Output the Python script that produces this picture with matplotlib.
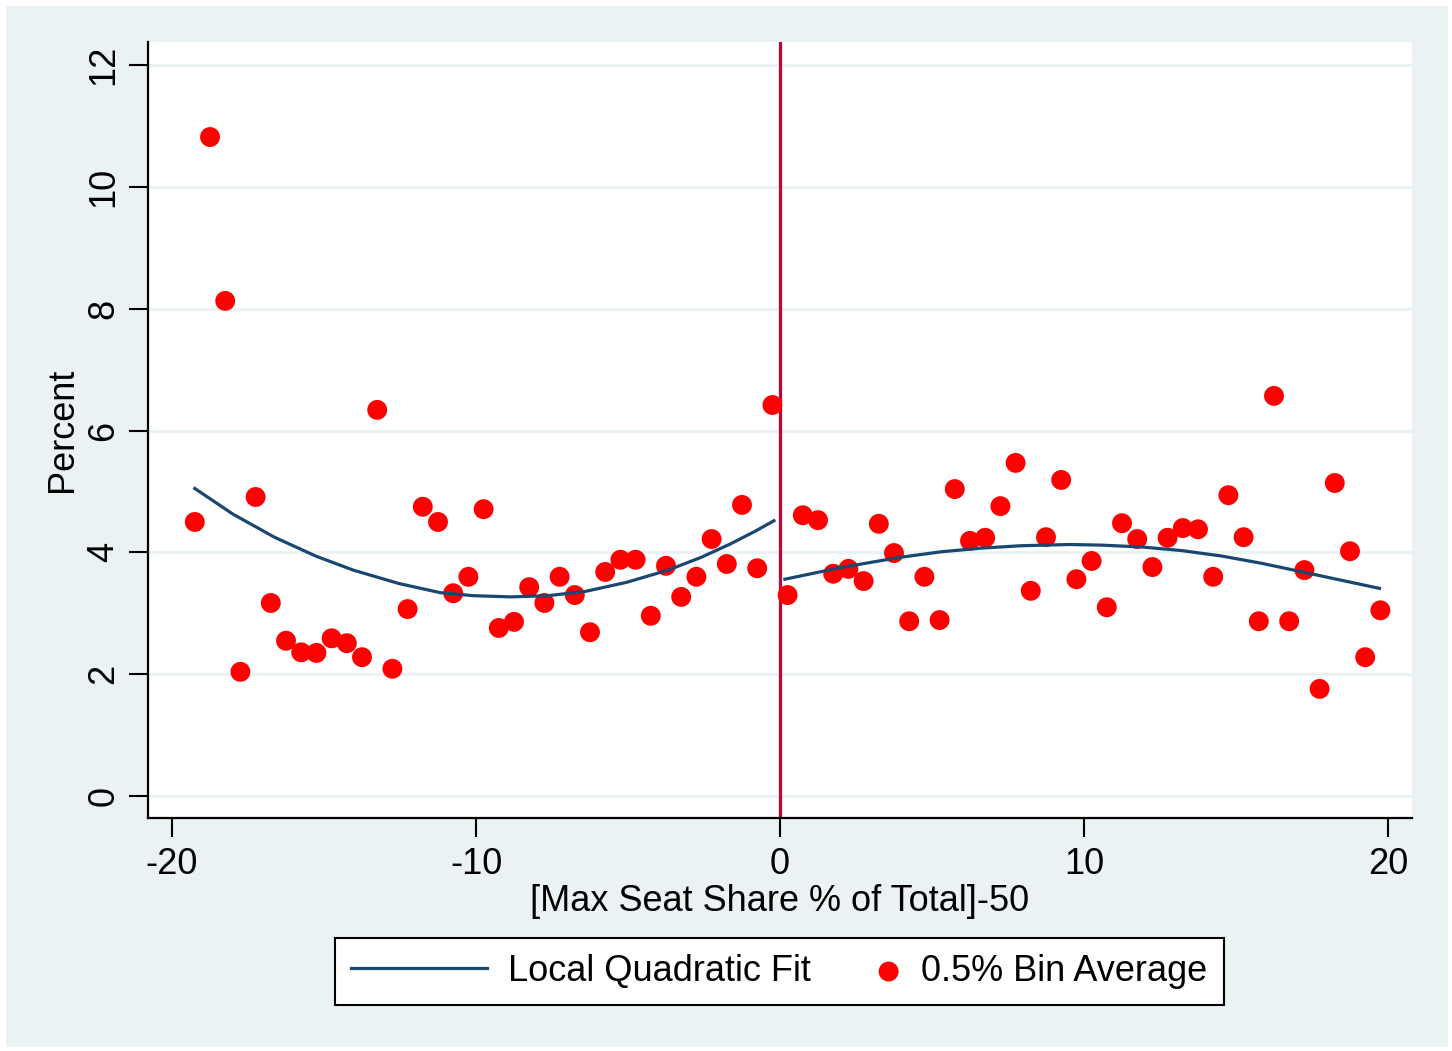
"""RD plot: share of seats vs. max seat share."""
import matplotlib
matplotlib.use("Agg")
import matplotlib.pyplot as plt
from matplotlib.patches import Rectangle
from matplotlib.collections import PathCollection
from matplotlib.legend_handler import HandlerPathCollection

plt.rcParams["font.family"] = ["Liberation Sans", "DejaVu Sans"]
plt.rcParams["axes.unicode_minus"] = False

# 0.5% bin averages, left of the cutoff
bin_x_left = [-19.25, -18.75, -18.25, -17.75, -17.25, -16.75, -16.25, -15.75, -15.25, -14.75,
              -14.25, -13.75, -13.25, -12.75, -12.25, -11.75, -11.25, -10.75, -10.25, -9.75,
              -9.25, -8.75, -8.25, -7.75, -7.25, -6.75, -6.25, -5.75, -5.25, -4.75,
              -4.25, -3.75, -3.25, -2.75, -2.25, -1.75, -1.25, -0.75, -0.25]
bin_y_left = [4.50, 10.82, 8.13, 2.04, 4.91, 3.17, 2.55, 2.36, 2.35, 2.59,
              2.51, 2.28, 6.34, 2.09, 3.07, 4.75, 4.50, 3.33, 3.60, 4.71,
              2.76, 2.86, 3.43, 3.17, 3.60, 3.30, 2.69, 3.68, 3.88, 3.88,
              2.96, 3.78, 3.27, 3.60, 4.22, 3.81, 4.78, 3.74, 6.42]

# 0.5% bin averages, right of the cutoff
bin_x_right = [0.25, 0.75, 1.25, 1.75, 2.25, 2.75, 3.25, 3.75, 4.25, 4.75,
               5.25, 5.75, 6.25, 6.75, 7.25, 7.75, 8.25, 8.75, 9.25, 9.75,
               10.25, 10.75, 11.25, 11.75, 12.25, 12.75, 13.25, 13.75, 14.25, 14.75,
               15.25, 15.75, 16.25, 16.75, 17.25, 17.75, 18.25, 18.75, 19.25, 19.75]
bin_y_right = [3.30, 4.61, 4.53, 3.65, 3.73, 3.53, 4.47, 3.99, 2.87, 3.60,
               2.89, 5.04, 4.19, 4.24, 4.76, 5.47, 3.37, 4.25, 5.19, 3.56,
               3.86, 3.10, 4.48, 4.22, 3.76, 4.24, 4.40, 4.38, 3.60, 4.94,
               4.25, 2.87, 6.57, 2.87, 3.71, 1.76, 5.14, 4.02, 2.28, 3.05]

# local quadratic fit
fit_x_left = [-19.25, -18.0, -16.63, -15.27, -14.04, -12.54, -11.18, -10.09, -8.86,
              -7.63, -6.40, -5.04, -3.68, -2.59, -1.63, -0.81, -0.2]
fit_y_left = [5.05, 4.63, 4.25, 3.94, 3.71, 3.49, 3.34, 3.29, 3.27,
              3.29, 3.36, 3.51, 3.71, 3.92, 4.14, 4.35, 4.52]
fit_x_right = [0.16, 1.98, 3.96, 5.29, 6.61, 7.93, 9.52, 10.57, 11.89,
               13.22, 14.54, 15.86, 17.18, 18.5, 19.72]
fit_y_right = [3.56, 3.75, 3.92, 4.01, 4.07, 4.11, 4.13, 4.12, 4.09,
               4.03, 3.94, 3.82, 3.68, 3.54, 3.41]

x_ticks = [-20, -10, 0, 10, 20]
y_ticks = [0, 2, 4, 6, 8, 10, 12]

bg = "#EAF2F3"
navy = "#1A476F"
dot_red = "#FF0000"
cut_red = "#C10534"
fs = 26

fig = plt.figure(figsize=(14.52, 10.51), dpi=100, facecolor="white")
fig.patches.append(Rectangle((6 / 1452, 4 / 1051), 1442 / 1452, 1041 / 1051,
                             transform=fig.transFigure, facecolor=bg, edgecolor="none", zorder=-10))
ax = fig.add_axes([148 / 1452, 1 - 818 / 1051, (1412 - 148) / 1452, (818 - 42) / 1051])
ax.set_zorder(1)
ax.set_facecolor("white")

for y in y_ticks:
    ax.axhline(y, color=bg, lw=2.2, zorder=1)
ax.axvline(0, color=cut_red, lw=2.3, zorder=2)

line, = ax.plot(fit_x_left, fit_y_left, color=navy, lw=2.3, zorder=4, label="Local Quadratic Fit")
ax.plot(fit_x_right, fit_y_right, color=navy, lw=2.3, zorder=4)
dots = ax.scatter(bin_x_left, bin_y_left, s=205, color=dot_red, edgecolors="none", zorder=3,
                  label="0.5% Bin Average")
ax.scatter(bin_x_right, bin_y_right, s=205, color=dot_red, edgecolors="none", zorder=3)

ax.set_xlim(-20.79, 20.79)
ax.set_ylim(-0.36, 12.38)
ax.set_xticks(x_ticks)
ax.set_yticks(y_ticks)
ax.set_yticklabels([str(v) for v in y_ticks], rotation=90, va="center")
ax.tick_params(axis="both", labelsize=fs, length=14, width=1.5, direction="out")
ax.tick_params(axis="y", pad=5)
ax.tick_params(axis="x", pad=7)
for side in ["top", "right"]:
    ax.spines[side].set_visible(False)
for side in ["left", "bottom"]:
    ax.spines[side].set_linewidth(1.6)

ax.set_xlabel("[Max Seat Share % of Total]-50", fontsize=fs, labelpad=1)
ax.set_ylabel("Percent", fontsize=fs, labelpad=5)

leg = fig.legend(handles=[line, dots], loc="center", bbox_to_anchor=(779.5 / 1452, 1 - 971.5 / 1051),
                 bbox_transform=fig.transFigure, ncol=2, fontsize=fs, frameon=True, fancybox=False,
                 edgecolor="black", framealpha=1, borderpad=0.45, handlelength=3.75,
                 handletextpad=0.6, columnspacing=-1.3, scatterpoints=1,
                 handler_map={PathCollection: HandlerPathCollection(xpad=3.13)})
leg.get_frame().set_linewidth(1.5)

fig.savefig("out.png", dpi=100, facecolor=fig.get_facecolor())
